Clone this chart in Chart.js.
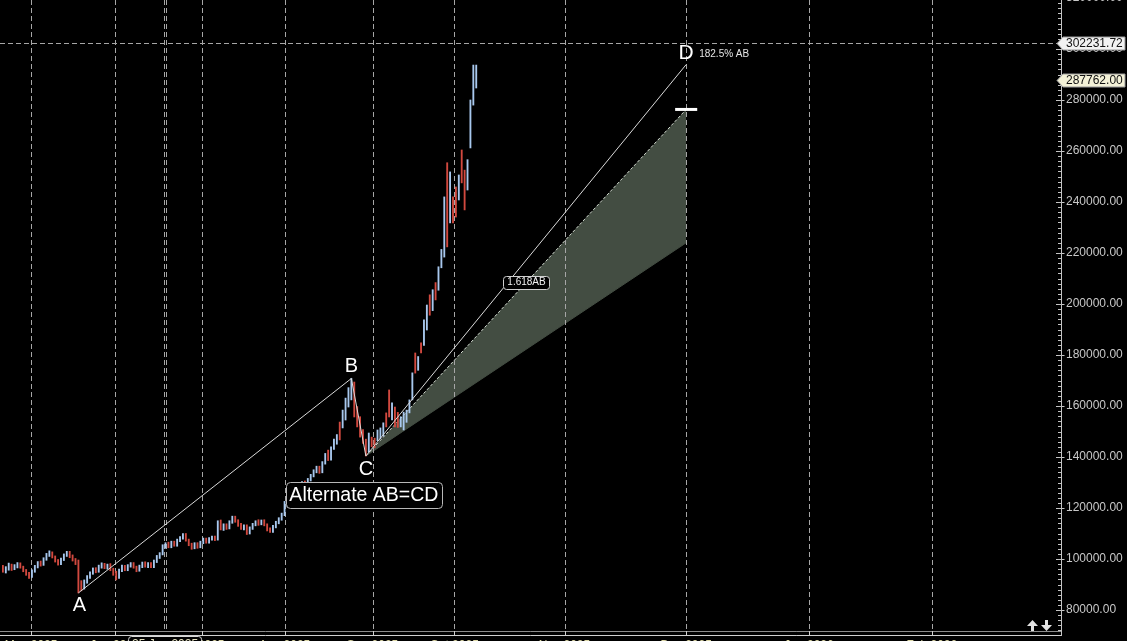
<!DOCTYPE html>
<html><head><meta charset="utf-8">
<script src="https://cdn.jsdelivr.net/npm/chart.js@4.4.0/dist/chart.umd.min.js"></script>
<style>html,body{margin:0;padding:0;background:#000;overflow:hidden;}canvas{display:block;}</style>
</head><body>
<canvas id="c" width="1127" height="641" style="width:1127px;height:641px"></canvas>
<script>
// ---- bar data (one bar per session) ----
const opens=[
96800,95500,96300,97800,96200,97200,98200,96800,95400,94000,
93200,95300,96800,98600,97800,100000,101600,102300,100800,99300,
98200,100000,101500,102600,101000,99600,98500,91200,88800,91000,
93000,94400,96000,95000,97000,98000,96600,97600,95800,94500,
92800,95400,97000,95800,97200,98200,96800,95600,97000,98400,
97200,98200,97000,99000,100800,102000,104800,106000,104800,106600,
105400,107400,108200,109600,107400,105600,104400,106000,104800,106600,
107800,106600,107800,108600,107800,114400,112000,113400,112200,114400,
116400,114800,113200,112000,113000,110200,112000,113400,114600,113800,
115000,113400,111600,110800,112600,114200,115600,117400,121800,123200,
125400,124000,126600,128400,130000,128800,131000,132600,134400,136000,
134200,137600,141000,139200,143400,146400,153200,151800,155000,160000,
163000,168800,159400,155400,150400,146500,142400,147600,147000,146800,
147600,148600,157000,165800,155000,159200,157000,152200,151000,154000,
157600,162600,180400,174400,184400,184200,190200,203200,197800,208000,
205800,214600,218800,254800,232200,241600,245400,241200,260000,252000,
245000,261600,278400,285200];
const highs=[
97500,97000,98400,98000,97800,98600,98500,97200,95900,94800,
95800,97500,99000,99200,100500,102200,103200,102800,101200,99800,
100400,102000,103000,103000,101600,100200,99600,91500,91800,93500,
95000,96500,96600,97600,98500,98300,98000,98200,96400,95200,
96000,97600,97500,97800,98600,98600,97200,97600,98800,98900,
98600,98600,99600,101400,102500,105600,106400,106600,107000,107000,
107800,108800,110000,110000,107800,106200,106400,106400,107000,108200,
108200,108400,109000,109000,115000,115300,113800,113800,115000,116800,
116800,115400,114000,113400,113400,112600,114000,115000,115400,115300,
115400,113800,112200,113200,114800,116200,118000,122600,124000,126000,
126000,127200,129000,130400,130600,131600,133200,135000,136400,136400,
138200,141400,142700,144000,147000,148800,153700,158400,163100,167200,
170800,169400,159800,155800,150800,147000,149400,147800,147400,150600,
151400,153400,157300,166300,161200,159600,157500,155800,157600,158400,
162400,173000,180800,179400,184800,193800,199600,203600,205600,208400,
214600,221400,242000,255400,251800,242000,245900,250600,260400,252500,
256600,280000,293700,293700];
const lows=[
94800,94500,95600,95500,95800,96500,96400,95000,93600,92400,
92800,94800,96500,97200,97500,99500,101000,100400,98800,97600,
97800,99400,101000,100500,99200,97800,86700,87500,88200,90500,
92400,94000,94600,94800,96400,96200,96000,95400,93600,91800,
92400,95000,95400,95400,96800,96400,95000,95200,96600,96800,
96600,96600,96600,98600,100200,101600,104200,104400,104400,105000,
105000,106800,107800,107000,105200,103800,104000,104200,104400,106000,
106200,106200,107400,107200,107400,111400,111200,111600,111800,114000,
114400,112800,111600,111400,109600,109800,111600,113000,113200,113400,
113000,111000,110400,110400,112200,113800,115200,117000,120400,122600,
123400,123600,126200,127800,128200,128400,130600,132200,133800,133600,
133800,137200,138600,138800,143000,145000,146700,151400,154500,159600,
162400,155700,151800,147800,145300,140400,142000,144000,143600,146400,
147200,148200,151800,155700,154500,151800,151600,151800,150600,153600,
157300,162400,172900,174000,180800,183800,189800,195600,197400,201600,
205400,214200,218400,222400,231800,231800,234100,240800,247500,236900,
244700,261200,278000,284700];
const closes=[
95500,96500,97800,96200,97300,98200,96800,95400,94000,93000,
95400,97000,98600,97600,100000,101800,102300,100800,99300,98000,
100000,101600,102600,101000,99600,98200,88000,88600,91200,93000,
94600,96000,95000,97200,98000,96600,97600,95800,94000,92600,
95500,97000,95800,97400,98200,96800,95600,97200,98400,97200,
98200,97000,99200,101000,102000,105000,106000,104800,106600,105400,
107400,108400,109600,107400,105600,104400,106000,104800,106600,107800,
106600,108000,108600,107600,114400,112000,113400,112200,114600,116400,
114800,113200,112000,113000,110200,112200,113600,114600,113800,115000,
113400,111600,110800,112800,114400,115800,117600,122000,123500,125400,
124000,126800,128600,130000,128800,131200,132800,134600,136000,134200,
137800,141000,139200,143600,146600,148400,147400,158000,162600,166800,
169400,156400,152600,148400,146000,142000,148800,144600,144200,150200,
151000,153000,152400,156400,160600,152600,152200,155400,157200,158000,
162000,172400,173600,179000,181400,193200,199000,196400,205000,202400,
214000,221000,241400,223400,251200,232600,235000,250000,248200,237800,
256000,279400,293000,287762];

// ---- harmonic pattern points (bar index / price) ----
const patternNames=['A','B','C','D'];
const patternIdx=[26,120,125,235.3];
const patternVals=[86700,170800,140400,293900];
// projection zone from C: 1.0 AB and 1.618 AB
const projIdx=[125,235.3];
const projLow=[140400,224000];
const projHigh=[140400,276300];
const markerIdx=[231.5,239.1];
const markerVal=[276300,276300];

// ---- axes ----
const yTickVals=[80000,100000,120000,140000,160000,180000,200000,220000,240000,260000,280000,300000,320000];
const gridIdx=[9.7,38.6,68.5,97.0,127.3,155.5,193.4,235.3,277.6,319.9];
const gridLabels=['May 2025','Jun 2025','Jul 2025','Aug 2025','Sep 2025','Oct 2025','Nov 2025','Dec 2025','Jan 2026','Feb 2026'];
const cursorIdx=[55.5,56.2];
const cursorDate='25 Jun 2025';
const cursorPrice=302231.72;
const lastPrice=287762.00;

const FONT="'Liberation Sans', Arial, sans-serif";
const UP='#a8c8ee', DOWN='#d2493f';
const barColors=closes.map((c,i)=>c>=opens[i]?UP:DOWN);

function rr(ctx,x,y,w,h,r){ctx.beginPath();ctx.moveTo(x+r,y);ctx.lineTo(x+w-r,y);ctx.quadraticCurveTo(x+w,y,x+w,y+r);ctx.lineTo(x+w,y+h-r);ctx.quadraticCurveTo(x+w,y+h,x+w-r,y+h);ctx.lineTo(x+r,y+h);ctx.quadraticCurveTo(x,y+h,x,y+h-r);ctx.lineTo(x,y+r);ctx.quadraticCurveTo(x,y,x+r,y);ctx.closePath();}

const overlay={
  id:'overlay',
  beforeDatasetDraw(chart,args){
    if(args.index!==2) return;
    const {ctx,chartArea:a,scales:{x,y}}=chart;
    ctx.save();
    ctx.strokeStyle='#a6a6a6';ctx.lineWidth=1;ctx.setLineDash([5,3]);
    for(const t of gridIdx.concat(cursorIdx)){
      const px=Math.round(x.getPixelForValue(t))+0.5;
      ctx.beginPath();ctx.moveTo(px,a.top);ctx.lineTo(px,a.bottom);ctx.stroke();
    }
    const py=Math.round(y.getPixelForValue(cursorPrice))+0.5;
    ctx.beginPath();ctx.moveTo(a.left,py);ctx.lineTo(a.right,py);ctx.stroke();
    ctx.restore();
  },
  afterDraw(chart){
    const {ctx,chartArea:a,scales:{x,y}}=chart;
    ctx.save();
    // bottom axis
    const axX=a.right+4.5;
    ctx.strokeStyle='#8c8c8c';ctx.lineWidth=1;
    ctx.beginPath();ctx.moveTo(0,a.bottom+0.5);ctx.lineTo(axX,a.bottom+0.5);ctx.stroke();
    ctx.strokeStyle='#d0d0d0';
    ctx.beginPath();ctx.moveTo(0,a.bottom+4.5);ctx.lineTo(axX,a.bottom+4.5);ctx.stroke();
    for(const t of gridIdx){const px=Math.round(x.getPixelForValue(t))+0.5;ctx.beginPath();ctx.moveTo(px,a.bottom);ctx.lineTo(px,a.bottom+5);ctx.stroke();}
    // right axis
    ctx.strokeStyle='#c4c4c4';
    ctx.beginPath();ctx.moveTo(axX,0);ctx.lineTo(axX,a.bottom+5);ctx.stroke();
    for(let v=72000;v<=320000;v+=2000){
      const py=Math.round(y.getPixelForValue(v))+0.5;
      const major=v%20000===0;
      ctx.beginPath();ctx.moveTo(major?a.right-1:a.right+1,py);ctx.lineTo(major?axX+3:axX,py);ctx.stroke();
    }
    // cursor date tag
    const cx=x.getPixelForValue((cursorIdx[0]+cursorIdx[1])/2);
    ctx.font='12px '+FONT;
    rr(ctx,cx-36.5,a.bottom+5.5,73,16,3);ctx.fillStyle='#000';ctx.fill();ctx.strokeStyle='#d8d8d8';ctx.stroke();
    ctx.fillStyle='#e8e4c0';ctx.textAlign='center';ctx.textBaseline='top';ctx.fillText(cursorDate,cx,a.bottom+8);
    // price tags
    const tag=(val,bg,txt)=>{
      const py=Math.round(y.getPixelForValue(val))+0.5;
      ctx.beginPath();ctx.moveTo(a.right,py);ctx.lineTo(a.right+6,py-6.5);ctx.lineTo(1125,py-6.5);ctx.lineTo(1125,py+6.5);ctx.lineTo(a.right+6,py+6.5);ctx.closePath();
      ctx.fillStyle=bg;ctx.fill();ctx.strokeStyle='#9a9a9a';ctx.stroke();
      ctx.fillStyle='#111';ctx.font='12px '+FONT;ctx.textAlign='left';ctx.textBaseline='middle';
      ctx.fillText(txt,a.right+9,py+0.5);
    };
    tag(cursorPrice,'#f2f2f2',cursorPrice.toFixed(2));
    tag(lastPrice,'#f4f2d8',lastPrice.toFixed(2));
    // pattern letters
    const P=patternIdx.map((t,i)=>({x:x.getPixelForValue(t),y:y.getPixelForValue(patternVals[i])}));
    const off=[13,-12,14,-11];
    ctx.fillStyle='#ffffff';ctx.textAlign='center';ctx.textBaseline='middle';
    patternNames.forEach((n,i)=>{ctx.font=(i===3?'21px ':'20px ')+FONT;ctx.fillText(n,P[i].x+(i===0?1:0),P[i].y+off[i]);});
    // D annotation
    ctx.font='10px '+FONT;ctx.textAlign='left';ctx.fillStyle='#e4e4e4';
    ctx.fillText('182.5% AB',P[3].x+13,P[3].y-10);
    // 1.618AB tag at middle of upper projection line
    const mx=(x.getPixelForValue(projIdx[0])+x.getPixelForValue(projIdx[1]))/2;
    const my=(y.getPixelForValue(projHigh[0])+y.getPixelForValue(projHigh[1]))/2;
    rr(ctx,Math.round(mx-23)+0.5,Math.round(my-7)+0.5,46,13,3);ctx.fillStyle='#000';ctx.fill();ctx.strokeStyle='#cfcfcf';ctx.lineWidth=1;ctx.stroke();
    ctx.fillStyle='#f0f0f0';ctx.textAlign='center';ctx.font='10px '+FONT;ctx.fillText('1.618AB',mx+0.5,my);
    // pattern title
    const C=P[2];
    rr(ctx,Math.round(C.x-80)+0.5,Math.round(C.y+26)+0.5,156,26,4);ctx.fillStyle='#000';ctx.fill();ctx.strokeStyle='#b8b8b8';ctx.stroke();
    ctx.fillStyle='#ffffff';ctx.font='19.5px '+FONT;ctx.textAlign='center';ctx.textBaseline='middle';
    ctx.fillText('Alternate AB=CD',C.x-2,C.y+40);
    // scroll arrows
    ctx.fillStyle='#e4e4e4';
    const ay=a.bottom-11;
    ctx.beginPath();ctx.moveTo(1027,ay+6);ctx.lineTo(1032.5,ay);ctx.lineTo(1038,ay+6);ctx.lineTo(1034,ay+6);ctx.lineTo(1034,ay+11);ctx.lineTo(1031,ay+11);ctx.lineTo(1031,ay+6);ctx.closePath();ctx.fill();
    ctx.beginPath();ctx.moveTo(1041,ay+5);ctx.lineTo(1046.5,ay+11);ctx.lineTo(1052,ay+5);ctx.lineTo(1048,ay+5);ctx.lineTo(1048,ay);ctx.lineTo(1045,ay);ctx.lineTo(1045,ay+5);ctx.closePath();ctx.fill();
    ctx.restore();
  }
};

new Chart(document.getElementById('c').getContext('2d'),{
  type:'bar',
  data:{datasets:[
    {type:'line',data:projIdx.map((t,i)=>({x:t,y:projLow[i]})),borderColor:'#434d42',borderWidth:1,pointRadius:0,fill:false,order:5},
    {type:'line',data:projIdx.map((t,i)=>({x:t,y:projHigh[i]})),borderColor:'#d4dcd2',borderWidth:1,borderDash:[3,2],pointRadius:0,fill:'-1',backgroundColor:'#434d42',order:5},
    {type:'bar',data:opens.map((o,i)=>({x:i,y:[lows[i],highs[i]]})),backgroundColor:barColors,barThickness:1.2,borderWidth:0,order:3},
    {type:'line',data:patternIdx.map((t,i)=>({x:t,y:patternVals[i]})),borderColor:'#dadada',borderWidth:1,pointRadius:0,fill:false,tension:0,order:1},
    {type:'line',data:markerIdx.map((t,i)=>({x:t,y:markerVal[i]})),borderColor:'#ffffff',borderWidth:3,pointRadius:0,fill:false,order:1}
  ]},
  options:{
    responsive:false,animation:false,devicePixelRatio:1,events:[],
    layout:{padding:0},
    plugins:{legend:{display:false},tooltip:{enabled:false}},
    scales:{
      x:{type:'linear',min:-1,max:363,offset:false,position:'bottom',
        grid:{display:false,drawTicks:false},border:{display:false},
        afterBuildTicks:s=>{s.ticks=gridIdx.map(v=>({value:v}));},
        ticks:{autoSkip:false,maxRotation:0,minRotation:0,color:'#ddd8a8',padding:7,font:{family:FONT,size:12},
          callback:(v,i)=>gridLabels[i]},
        afterFit:s=>{s.height=10;s.paddingLeft=0;s.paddingRight=0;}},
      y:{type:'linear',position:'right',min:71765,max:319216,
        grid:{display:false,drawTicks:false},border:{display:false},
        afterBuildTicks:s=>{s.ticks=yTickVals.map(v=>({value:v}));},
        ticks:{color:'#c8c8c8',padding:9,font:{family:FONT,size:12},callback:v=>Number(v).toFixed(2)},
        afterFit:s=>{s.width=70;s.paddingTop=0;s.paddingBottom=0;}}
    }
  },
  plugins:[overlay]
});
</script>
</body></html>
